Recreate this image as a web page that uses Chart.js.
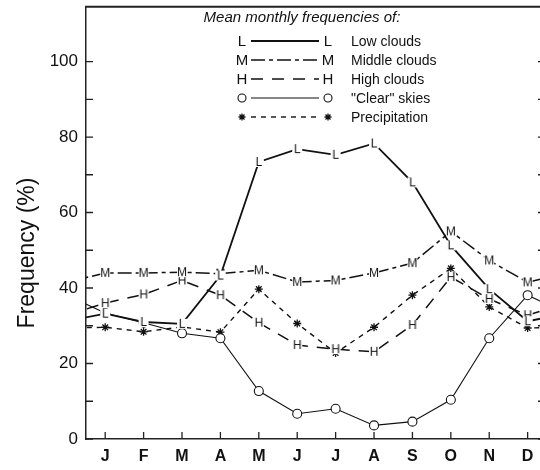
<!DOCTYPE html>
<html>
<head>
<meta charset="utf-8">
<style>
  html, body { margin: 0; padding: 0; background: #fff; overflow: hidden; }
  #marco { width: 540px; height: 470px; overflow: hidden; }
</style>
<script src="https://cdn.jsdelivr.net/npm/chart.js@4"></script>
</head>
<body>
<div id="marco"><canvas id="grafica" width="560" height="470"></canvas></div>
<script>
// Datos mensuales (%)
const meses = ['J', 'F', 'M', 'A', 'M', 'J', 'J', 'A', 'S', 'O', 'N', 'D'];
const nubesBajas = [33.2, 31.0, 30.5, 43.3, 73.4, 76.8, 75.3, 78.3, 68.0, 51.3, 39.7, 31.2];
const nubesMedias = [44.0, 44.0, 44.2, 43.8, 44.7, 41.6, 42.0, 44.0, 46.6, 55.0, 47.3, 41.5];
const nubesAltas = [36.0, 38.3, 42.0, 38.1, 30.8, 24.9, 23.8, 23.1, 30.2, 42.9, 37.1, 32.8];
const despejado = [33.4, 30.8, 28.0, 26.7, 12.7, 6.7, 8.0, 3.6, 4.6, 10.4, 26.7, 38.1];
const precipitacion = [29.6, 28.4, 29.7, 28.3, 39.7, 30.6, 22.8, 29.6, 38.1, 45.2, 35.0, 29.4];
const ticksY = [0, 20, 40, 60, 80, 100];
const nombresSeries = ['Low clouds', 'Middle clouds', 'High clouds', '"Clear" skies', 'Precipitation'];
const tituloLeyenda = 'Mean monthly frequencies of:';
const tituloY = 'Frequency (%)';

const FUENTE = '"Liberation Sans", Arial, Helvetica, sans-serif';
const NEGRO = '#111';

// El ciclo anual continúa: diciembre antes de enero y enero después de diciembre
function puntosCiclicos(valores) {
    const puntos = valores.map((v, i) => ({ x: i, y: v }));
    return [{ x: -1, y: valores[11] }, ...puntos, { x: 12, y: valores[0] }];
}

// Letra como marcador, con fondo blanco para cortar la línea
function crearLetra(letra) {
    const c = document.createElement('canvas');
    c.width = 14; c.height = 14;
    const ctx = c.getContext('2d');
    ctx.fillStyle = '#fff';
    ctx.fillRect(2, 2, 10, 10);
    ctx.fillStyle = NEGRO;
    ctx.font = '12px ' + FUENTE;
    ctx.textAlign = 'center';
    ctx.textBaseline = 'middle';
    ctx.fillText(letra, 7, 7.5);
    return c;
}

const estilos = [
    { letra: 'L', borderWidth: 1.8, borderDash: [], pointStyle: crearLetra('L'), pointRadius: 5 },
    { letra: 'M', borderWidth: 1.5, borderDash: [14, 4, 4, 4], pointStyle: crearLetra('M'), pointRadius: 5 },
    { letra: 'H', borderWidth: 1.5, borderDash: [12, 9], pointStyle: crearLetra('H'), pointRadius: 5 },
    { borderWidth: 1.1, borderDash: [], pointStyle: 'circle', pointRadius: 4.5, pointBackgroundColor: '#fff', pointBorderWidth: 1.1 },
    { borderWidth: 1.4, borderDash: [5, 5], pointStyle: 'star', pointRadius: 4, pointBorderWidth: 1.3 }
];
const series = [nubesBajas, nubesMedias, nubesAltas, despejado, precipitacion];

const datasets = series.map((valores, i) => Object.assign({
    label: nombresSeries[i],
    data: puntosCiclicos(valores),
    borderColor: NEGRO,
    pointBorderColor: NEGRO,
    tension: 0,
    fill: false
}, estilos[i]));

// Marco superior, marcas hacia dentro, título del eje y leyenda
const plugMarco = {
    id: 'marco',
    afterDraw(chart) {
        const ctx = chart.ctx;
        const { left, right, top, bottom } = chart.chartArea;
        const sy = chart.scales.y, sx = chart.scales.x;
        ctx.save();
        ctx.strokeStyle = '#222';
        ctx.lineWidth = 2;
        ctx.beginPath();
        ctx.moveTo(left - 1, top);
        ctx.lineTo(right, top);
        ctx.stroke();

        ctx.lineWidth = 1.3;
        ctx.beginPath();
        sy.ticks.forEach(t => {
            if (t.value % 10 !== 0) return;
            const y = sy.getPixelForValue(t.value);
            ctx.moveTo(left, y); ctx.lineTo(left + 7, y);
            ctx.moveTo(right - 5, y); ctx.lineTo(right, y);
        });
        sx.ticks.forEach(t => {
            const x = sx.getPixelForValue(t.value);
            ctx.moveTo(x, bottom); ctx.lineTo(x, bottom - 7);
        });
        ctx.stroke();

        // título del eje y
        ctx.fillStyle = NEGRO;
        ctx.font = '23px ' + FUENTE;
        ctx.textAlign = 'center';
        ctx.textBaseline = 'middle';
        ctx.translate(28, 253);
        ctx.rotate(-Math.PI / 2);
        ctx.fillText(tituloY, 0, 0);
        ctx.restore();

        dibujarLeyenda(ctx);
    }
};

function dibujarMarca(ctx, i, x, y) {
    const e = estilos[i];
    ctx.save();
    ctx.setLineDash([]);
    if (e.letra) {
        ctx.fillStyle = NEGRO;
        ctx.font = '15px ' + FUENTE;
        ctx.textAlign = 'center';
        ctx.textBaseline = 'middle';
        ctx.fillText(e.letra, x, y + 1);
    } else if (e.pointStyle === 'circle') {
        ctx.fillStyle = '#fff';
        ctx.strokeStyle = NEGRO;
        ctx.lineWidth = 1.1;
        ctx.beginPath();
        ctx.arc(x, y, 4, 0, Math.PI * 2);
        ctx.fill();
        ctx.stroke();
    } else {
        ctx.strokeStyle = NEGRO;
        ctx.lineWidth = 1.3;
        ctx.beginPath();
        for (let k = 0; k < 4; k++) {
            const a = k * Math.PI / 4;
            ctx.moveTo(x - 3.5 * Math.cos(a), y - 3.5 * Math.sin(a));
            ctx.lineTo(x + 3.5 * Math.cos(a), y + 3.5 * Math.sin(a));
        }
        ctx.stroke();
    }
    ctx.restore();
}

function dibujarLeyenda(ctx) {
    ctx.save();
    ctx.fillStyle = NEGRO;
    ctx.font = 'italic 15px ' + FUENTE;
    ctx.textAlign = 'center';
    ctx.textBaseline = 'middle';
    ctx.fillText(tituloLeyenda, 302, 18);

    nombresSeries.forEach((nombre, i) => {
        const y = 41 + i * 19;
        const e = estilos[i];
        ctx.strokeStyle = NEGRO;
        ctx.lineWidth = e.borderWidth;
        ctx.setLineDash(e.borderDash);
        ctx.beginPath();
        ctx.moveTo(251, y);
        ctx.lineTo(319, y);
        ctx.stroke();
        dibujarMarca(ctx, i, 242, y);
        dibujarMarca(ctx, i, 328, y);
        ctx.fillStyle = NEGRO;
        ctx.font = '14px ' + FUENTE;
        ctx.textAlign = 'left';
        ctx.fillText(nombre, 351, y + 1);
    });
    ctx.restore();
}

Chart.defaults.font.family = FUENTE;
Chart.defaults.color = NEGRO;

new Chart(document.getElementById('grafica').getContext('2d'), {
    type: 'line',
    data: { datasets },
    options: {
        responsive: false,
        animation: false,
        layout: { padding: { top: 5, right: 17, left: 0, bottom: 0 } },
        plugins: { legend: { display: false }, tooltip: { enabled: false } },
        scales: {
            x: {
                type: 'linear',
                min: -0.5,
                max: 11.4,
                afterBuildTicks: s => { s.ticks = meses.map((m, i) => ({ value: i })); },
                afterFit: s => { s.height = 31; s.paddingLeft = 0; s.paddingRight = 0; },
                grid: { display: false, drawTicks: false },
                border: { display: true, color: '#222', width: 1.5 },
                ticks: {
                    callback: v => meses[v],
                    padding: 8,
                    autoSkip: false,
                    maxRotation: 0,
                    font: { size: 16, weight: 'bold' },
                    color: NEGRO
                }
            },
            y: {
                min: 0,
                max: 114.5,
                afterFit: s => { s.width = 86; s.paddingTop = 0; s.paddingBottom = 0; },
                grid: { display: false, drawTicks: false },
                border: { display: true, color: '#222', width: 1.5 },
                ticks: {
                    stepSize: 10,
                    autoSkip: false,
                    callback: v => ticksY.includes(v) ? String(v) : '',
                    padding: 8,
                    font: { size: 17 },
                    color: NEGRO
                }
            }
        }
    },
    plugins: [plugMarco]
});
</script>
</body>
</html>
